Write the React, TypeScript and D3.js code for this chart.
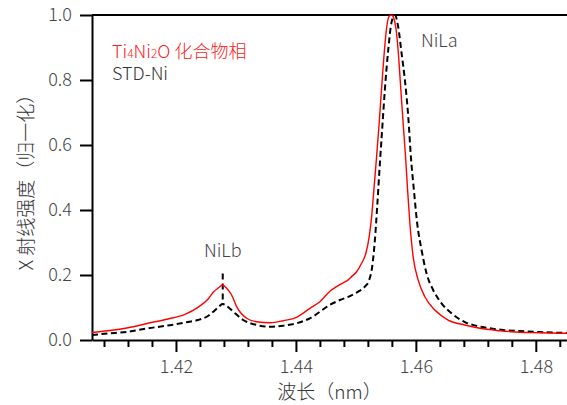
import * as d3 from "d3";
import React from "react";

// wavelength (nm) and normalised intensity
const ti4ni2oWave = [1.406, 1.40867, 1.412, 1.41533, 1.41867, 1.4215, 1.42367, 1.42533, 1.42633, 1.427, 1.42778, 1.42845, 1.42928, 1.43012, 1.43178, 1.43345, 1.43567, 1.43788, 1.44012, 1.44233, 1.444, 1.44567, 1.44678, 1.44788, 1.44872, 1.44928, 1.45012, 1.45095, 1.45167, 1.45222, 1.45262, 1.453, 1.45345, 1.45388, 1.4545, 1.45512, 1.4555, 1.45595, 1.45633, 1.45667, 1.45705, 1.4575, 1.45788, 1.45828, 1.45862, 1.459, 1.45955, 1.46038, 1.4615, 1.46317, 1.46538, 1.46817, 1.47067, 1.474, 1.47733, 1.48067, 1.48517];
const ti4ni2oValue = [0.023, 0.0286, 0.0378, 0.0514, 0.0646, 0.0791, 0.1006, 0.1252, 0.1492, 0.1591, 0.1692, 0.1591, 0.1385, 0.1025, 0.0668, 0.0563, 0.0532, 0.0594, 0.0698, 0.0975, 0.1178, 0.15, 0.164, 0.176, 0.185, 0.195, 0.21, 0.236, 0.267, 0.318, 0.379, 0.462, 0.564, 0.667, 0.83, 0.96, 0.995, 1.0, 0.99, 0.96, 0.89, 0.769, 0.667, 0.564, 0.462, 0.359, 0.256, 0.185, 0.133, 0.092, 0.0615, 0.046, 0.036, 0.0286, 0.0237, 0.0225, 0.0206];

const stdNiWave = [1.406, 1.40867, 1.412, 1.41533, 1.41867, 1.422, 1.42367, 1.42533, 1.42622, 1.42705, 1.42778, 1.42845, 1.42955, 1.43122, 1.43345, 1.43567, 1.43788, 1.44012, 1.44233, 1.44567, 1.44733, 1.449, 1.45038, 1.4515, 1.45222, 1.45272, 1.45317, 1.45355, 1.454, 1.45445, 1.45483, 1.45538, 1.45595, 1.4565, 1.45705, 1.45762, 1.45817, 1.45872, 1.45917, 1.45967, 1.46022, 1.46095, 1.46178, 1.46288, 1.46428, 1.46595, 1.46817, 1.46983, 1.47178, 1.47455, 1.47733, 1.48067, 1.48517];
const stdNiValue = [0.0154, 0.02, 0.0255, 0.036, 0.0446, 0.0554, 0.0615, 0.0738, 0.0871, 0.1006, 0.1108, 0.1046, 0.0871, 0.0615, 0.0462, 0.0409, 0.044, 0.0514, 0.0668, 0.108, 0.123, 0.135, 0.149, 0.164, 0.185, 0.226, 0.308, 0.41, 0.544, 0.667, 0.77, 0.89, 0.978, 1.0, 0.964, 0.882, 0.8, 0.69, 0.564, 0.462, 0.359, 0.277, 0.205, 0.154, 0.113, 0.082, 0.055, 0.045, 0.0378, 0.0308, 0.0277, 0.0246, 0.0215];

const xMajorTicks = [1.42, 1.44, 1.46, 1.48];
const yTicks = [0, 0.2, 0.4, 0.6, 0.8, 1.0];

const nilbPos = { wave: 1.4278, from: 0.11, to: 0.205 };

const FONT = "'Noto Sans CJK SC', 'Noto Sans', sans-serif";

export default function App() {
  const ref = React.useRef<SVGSVGElement>(null);

  React.useEffect(() => {
    document.body.style.margin = "0";
    const width = 567, height = 405;
    const margin = { top: 15, right: 0, bottom: 65, left: 92 };
    const svg = d3.select(ref.current);
    svg.selectAll("*").remove();

    const x = d3.scaleLinear().domain([1.406, 1.4852]).range([margin.left, width - margin.right]);
    const y = d3.scaleLinear().domain([0, 1]).range([height - margin.bottom, margin.top]);

    // minor ticks every 0.004
    const minor = d3.range(1.408, 1.4852, 0.004).filter((v) => !xMajorTicks.some((m) => Math.abs(m - v) < 1e-6));

    const xAxisMinor = svg.append("g")
      .attr("transform", `translate(0,${y(0)})`)
      .call(d3.axisBottom(x).tickValues(minor).tickSize(7).tickFormat(() => ""));
    xAxisMinor.select(".domain").remove();
    xAxisMinor.selectAll("line").attr("stroke", "#000").attr("stroke-width", 2);

    const xAxis = svg.append("g")
      .attr("transform", `translate(0,${y(0)})`)
      .call(d3.axisBottom(x).tickValues(xMajorTicks).tickSize(12).tickSizeOuter(0).tickPadding(8).tickFormat(d3.format(".2f")));
    xAxis.select(".domain").attr("stroke", "#000").attr("stroke-width", 2);
    xAxis.selectAll("line").attr("stroke", "#000").attr("stroke-width", 2);
    xAxis.selectAll("text").attr("font-family", FONT).attr("font-weight", 300).attr("font-size", 18).attr("fill", "#444");

    const yAxis = svg.append("g")
      .attr("transform", `translate(${margin.left},0)`)
      .call(d3.axisLeft(y).tickValues(yTicks).tickSize(12).tickSizeOuter(0).tickPadding(8).tickFormat(d3.format(".1f")));
    yAxis.select(".domain").attr("stroke", "#000").attr("stroke-width", 2);
    yAxis.selectAll("line").attr("stroke", "#000").attr("stroke-width", 2);
    yAxis.selectAll("text").attr("font-family", FONT).attr("font-weight", 300).attr("font-size", 18).attr("fill", "#444");

    // top frame line
    svg.append("line")
      .attr("x1", margin.left).attr("x2", width)
      .attr("y1", y(1)).attr("y2", y(1))
      .attr("stroke", "#000").attr("stroke-width", 2);

    // NiLb marker
    svg.append("line")
      .attr("x1", x(nilbPos.wave)).attr("x2", x(nilbPos.wave))
      .attr("y1", y(nilbPos.to)).attr("y2", y(nilbPos.from))
      .attr("stroke", "#000").attr("stroke-width", 2).attr("stroke-dasharray", "6,4");

    const line = d3.line<[number, number]>()
      .x((d) => x(d[0]))
      .y((d) => y(d[1]))
      .curve(d3.curveMonotoneX);

    svg.append("path")
      .datum(stdNiWave.map((w, i) => [w, stdNiValue[i]] as [number, number]))
      .attr("fill", "none").attr("stroke", "#000").attr("stroke-width", 2)
      .attr("stroke-dasharray", "6,3.5")
      .attr("d", line);

    svg.append("path")
      .datum(ti4ni2oWave.map((w, i) => [w, ti4ni2oValue[i]] as [number, number]))
      .attr("fill", "none").attr("stroke", "#ff0000").attr("stroke-width", 1.4)
      .attr("d", line);

    // labels
    const txt = (tx: number, ty: number, s: string, color: string, size: number, anchor = "start") =>
      svg.append("text").attr("x", tx).attr("y", ty).attr("fill", color)
        .attr("font-family", FONT).attr("font-weight", 300).attr("font-size", size)
        .attr("text-anchor", anchor).text(s);

    txt(x(nilbPos.wave), 257, "NiLb", "#444", 18, "middle");
    txt(421, 47, "NiLa", "#444", 18);

    const leg = svg.append("text").attr("x", 112).attr("y", 58).attr("fill", "#ff2020")
      .attr("font-family", FONT).attr("font-weight", 300).attr("font-size", 18);
    leg.append("tspan").text("Ti");
    leg.append("tspan").attr("font-size", 12).text("4");
    leg.append("tspan").text("Ni");
    leg.append("tspan").attr("font-size", 12).text("2");
    leg.append("tspan").text("O 化合物相");
    txt(112, 80, "STD-Ni", "#333", 18);

    txt((margin.left + width) / 2, 399, "波长（nm）", "#333", 19, "middle");
    svg.append("text")
      .attr("transform", `translate(33,${(y(0) + y(1)) / 2}) rotate(-90)`)
      .attr("text-anchor", "middle").attr("fill", "#333")
      .attr("font-family", FONT).attr("font-weight", 300).attr("font-size", 19)
      .text("X 射线强度（归一化）");
  }, []);

  return <svg ref={ref} width={567} height={405} style={{ display: "block", background: "#fff" }} />;
}
